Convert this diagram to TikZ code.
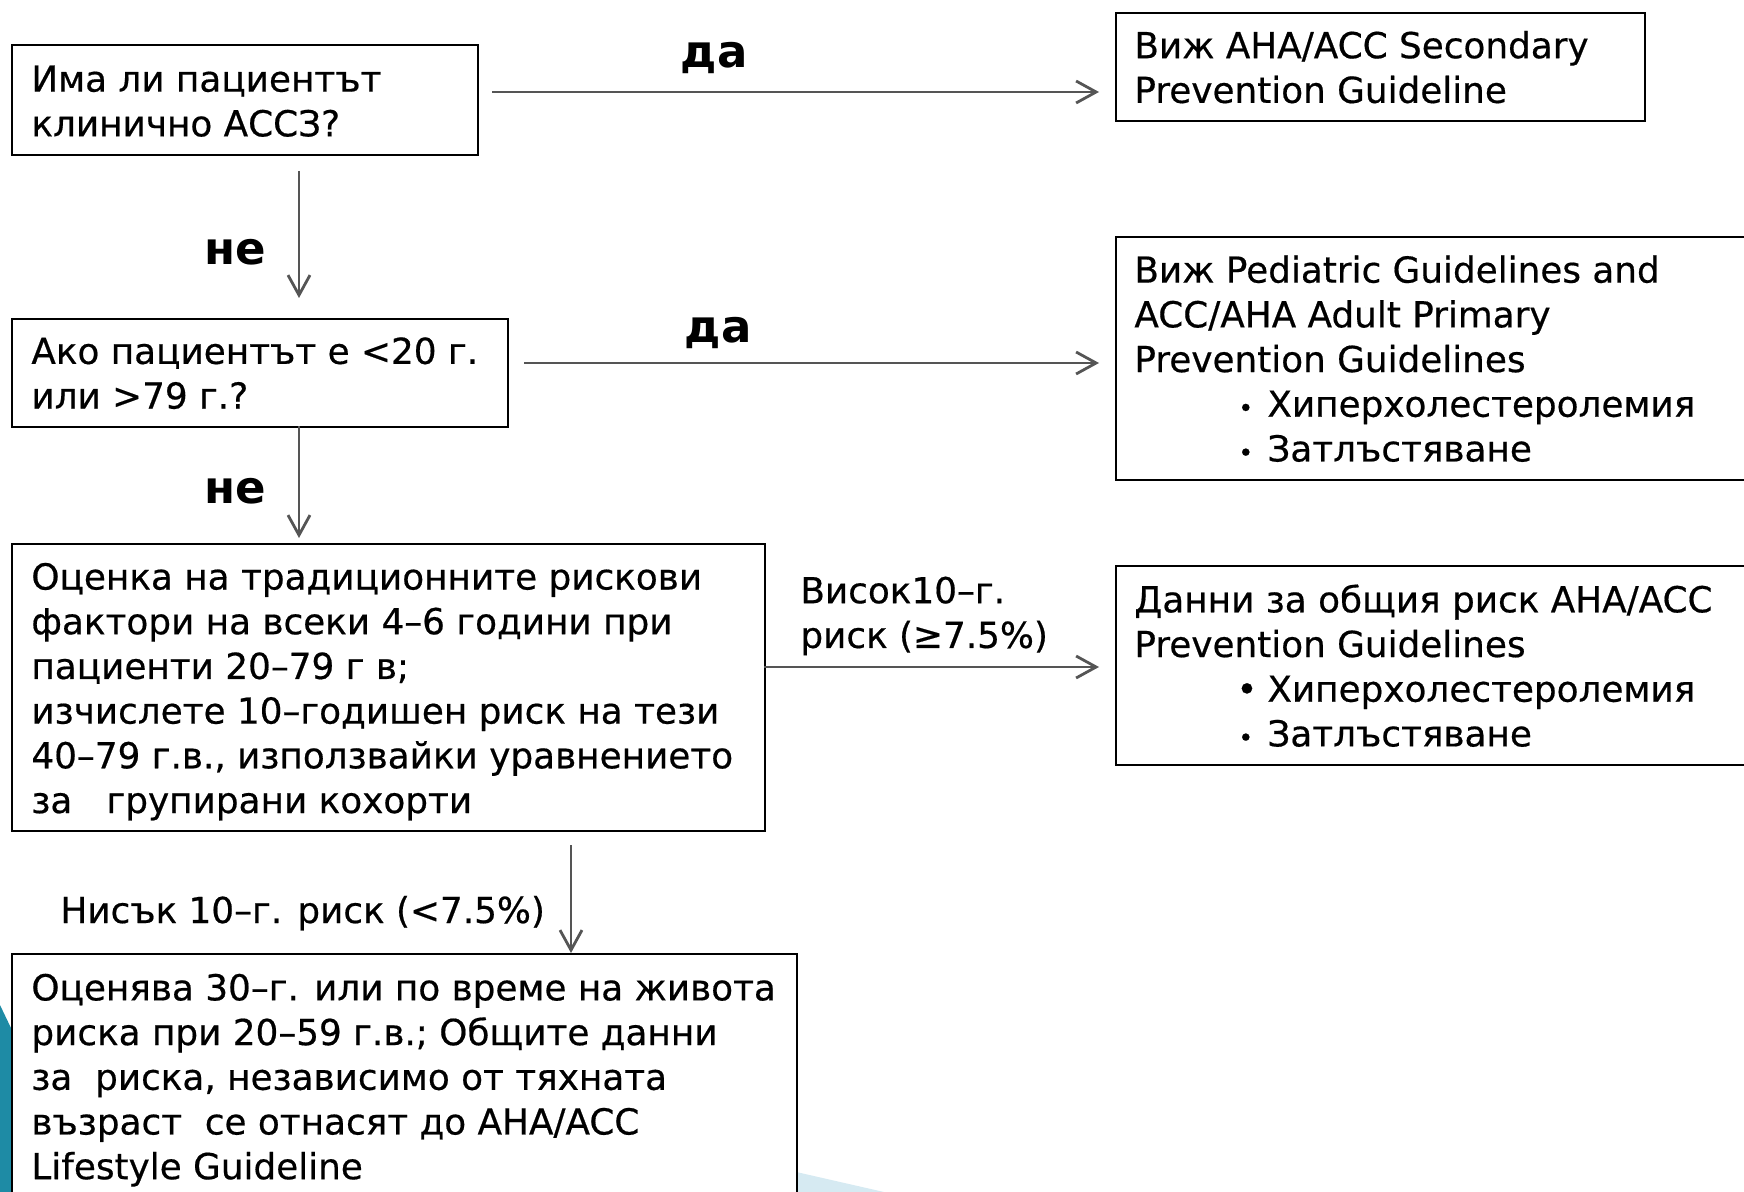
\documentclass[tikz,border=0pt]{standalone}
\usepackage{fontspec}
\setmainfont{DejaVu Sans}
\newfontfamily\medfont{DejaVu Sans}[FakeBold=0.5]
\usetikzlibrary{arrows.meta}
\definecolor{arrowgray}{HTML}{555555}
\definecolor{tealdeco}{HTML}{1E8BA5}
\definecolor{lightdeco}{HTML}{D6EAF2}
\newcommand{\bul}{\hspace*{51pt}\makebox[15.5pt][l]{•}}
\newcommand{\smallbul}{\hspace*{52pt}\makebox[14.5pt][l]{\scalebox{0.7}{•}}}
\begin{document}
\begin{tikzpicture}[x=0.5pt,y=-0.5pt,
  boxshape/.style={draw=black, line width=1.2pt, fill=white, anchor=north west, inner sep=0pt},
  boxtext/.style={anchor=west, align=left, inner sep=0pt, font=\medfont\fontsize{17.9}{22.35}\selectfont},
  conn/.style={draw=arrowgray, line width=1.05pt, -{Straight Barb[length=10pt,width=11pt,line width=1.4pt]}},
  yesno/.style={anchor=base, inner sep=0pt, font=\fontsize{22.5}{26}\selectfont\bfseries},
  edgetext/.style={inner sep=0pt, align=left, font=\medfont\fontsize{17.9}{22.35}\selectfont}]
\path[use as bounding box] (0,0) rectangle (1744,1192);
% background decorations
\fill[tealdeco] (0,1005) -- (11,1028) -- (11,1192) -- (0,1192) -- cycle;
\fill[lightdeco] (700,1150) -- (884,1192) -- (700,1192) -- cycle;
% boxes
\node[boxshape, minimum width=233pt, minimum height=55pt] (b1) at (11,44) {};
\node[boxtext] (t1) at ([xshift=10pt,yshift=-0.5pt]b1.west) {Има ли пациентът\\клинично АССЗ?};
\node[boxshape, minimum width=264.5pt, minimum height=54pt] (b2) at (1115,12) {};
\node[boxtext] (t2) at ([xshift=9.5pt]b2.west) {Виж AHA/ACC Secondary\\Prevention Guideline};
\node[boxshape, minimum width=248pt, minimum height=54pt] (b3) at (11,318) {};
\node[boxtext] (t3) at ([xshift=10pt]b3.west) {Ако пациентът е <20 г.\\или >79 г.?};
\node[boxshape, minimum width=330pt, minimum height=121.5pt] (b4) at (1115,236) {};
\node[boxtext] (t4) at ([xshift=9.5pt]b4.west) {Виж Pediatric Guidelines and\\ACC/AHA Adult Primary\\Prevention Guidelines\\\smallbul Хиперхолестеролемия\\\smallbul Затлъстяване};
\node[boxshape, minimum width=376.5pt, minimum height=143.5pt] (b5) at (11,543) {};
\node[boxtext] (t5) at ([xshift=10pt,yshift=-2pt]b5.west) {Оценка на традиционните рискови\\фактори на всеки 4–6 години при\\пациенти 20–79 г в;\\изчислете 10–годишен риск на тези\\40–79 г.в., използвайки уравнението\\за\ \ \ групирани кохорти};
\node[boxshape, minimum width=330pt, minimum height=99.5pt] (b6) at (1115,565) {};
\node[boxtext] (t6) at ([xshift=9.5pt]b6.west) {Данни за общия риск AHA/ACC\\Prevention Guidelines\\\bul Хиперхолестеролемия\\\smallbul Затлъстяване};
\node[boxshape, minimum width=392.5pt, minimum height=125pt] (b7) at (11,953) {};
\node[boxtext] (t7) at ([xshift=10pt,yshift=-0.5pt]b7.west) {Оценява 30–г. или по време на живота\\риска при 20–59 г.в.; Общите данни\\за\ \ риска, независимо от тяхната\\възраст\ \ се отнасят до AHA/ACC\\Lifestyle Guideline};
% connector end points
\coordinate (s1) at (492,92);
\coordinate (s2) at (299,171);
\coordinate (s3) at (524,363);
\coordinate (s4) at (299,426);
\coordinate (s5) at (764,667);
\coordinate (s6) at (571,845);
% connectors
\draw[conn, shorten >=8pt] (s1) -- (s1 -| b2.west);
\draw[conn, shorten >=10pt] (s2) -- (s2 |- b3.north);
\draw[conn, shorten >=8pt] (s3) -- (s3 -| b4.west);
\draw[conn, shorten >=2.5pt] (s4) -- (s4 |- b5.north);
\draw[conn, shorten >=8pt] (s5) -- (s5 -| b6.west);
\draw[conn] (s6) -- (s6 |- b7.north);
% labels
\node[yesno] (l1) at (714,68) {да};
\node[yesno] (l2) at (235,265) {не};
\node[yesno] (l3) at (718,343) {да};
\node[yesno] (l4) at (235,503) {не};
\node[edgetext, anchor=west] (l5) at (800,616) {Висок10–г.\\риск (≥7.5\%)};
\node[edgetext, anchor=base west] (l6) at (60,923) {Нисък 10–г. риск (<7.5\%)};
\end{tikzpicture}
\end{document}
